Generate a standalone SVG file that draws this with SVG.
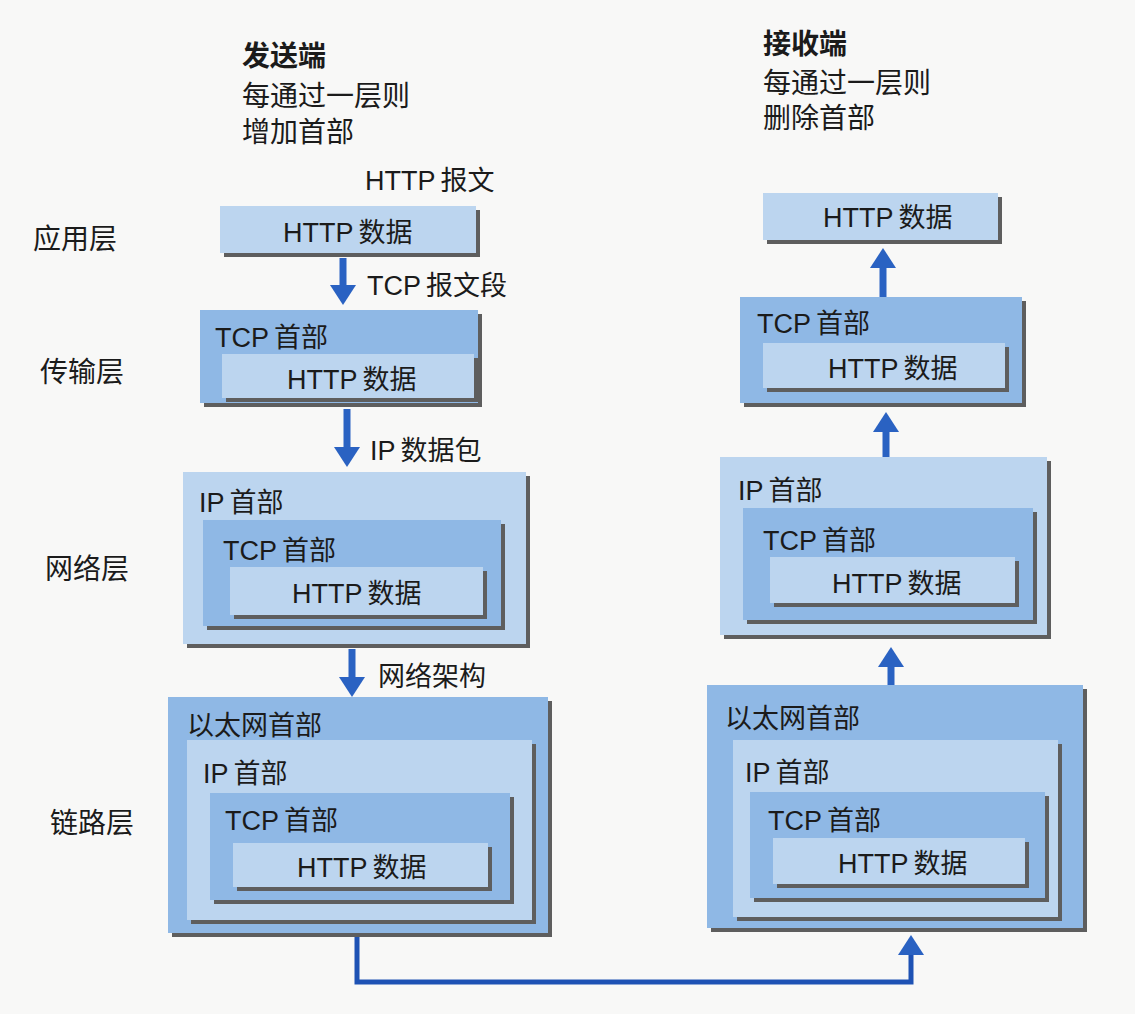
<svg xmlns="http://www.w3.org/2000/svg" width="1135" height="1014" viewBox="0 0 1135 1014">
  <defs>
    <style>
      .bg { fill: #f8f8f7; }
      .lt { fill: #bcd5ef; }
      .md { fill: #8fb8e5; }
      .sh { fill: #5e5e5e; }
      .t { font-family: "Liberation Sans", "Noto Sans CJK SC", sans-serif; font-size: 27px; fill: #1b1b1b; }
      .lbl { font-size: 28px; }
      .b { font-weight: bold; }
      .arr { fill: none; stroke: #2a62c2; stroke-width: 7; }
      .link { fill: none; stroke: #1e52b4; stroke-width: 5; }
    </style>
    <marker id="head" markerUnits="userSpaceOnUse" markerWidth="20" markerHeight="26" viewBox="0 0 20 26" refX="0" refY="13" orient="auto">
      <path d="M0,0 L20,13 L0,26 Z" fill="#2a62c2"/>
    </marker>
  </defs>

  <rect class="bg" x="0" y="0" width="1135" height="1014"/>

  <!-- headings -->
  <g id="sender-note" class="t lbl">
    <text class="b" x="242" y="66">发送端</text>
    <text x="242" y="106">每通过一层则</text>
    <text x="242" y="142">增加首部</text>
  </g>
  <g id="receiver-note" class="t lbl">
    <text class="b" x="763" y="54">接收端</text>
    <text x="763" y="93">每通过一层则</text>
    <text x="763" y="128">删除首部</text>
  </g>

  <!-- layer names -->
  <g id="layers" class="t lbl">
    <text x="33" y="249">应用层</text>
    <text x="40" y="382">传输层</text>
    <text x="45" y="579">网络层</text>
    <text x="50" y="833">链路层</text>
  </g>

  <!-- unit names between the sender stages -->
  <g id="unit-names" class="t">
    <text x="365" y="190">HTTP<tspan dx="5">报文</tspan></text>
    <text x="367" y="295">TCP<tspan dx="5">报文段</tspan></text>
    <text x="370" y="460">IP<tspan dx="5">数据包</tspan></text>
    <text x="378" y="686">网络架构</text>
  </g>

  <!-- sender: application layer -->
  <g id="send-app">
    <rect class="sh" x="224" y="210" width="256" height="47"/>
    <rect class="lt" x="220" y="206" width="256" height="47"/>
    <text class="t" x="283" y="242">HTTP<tspan dx="5">数据</tspan></text>
  </g>

  <!-- sender: transport layer -->
  <g id="send-transport">
    <rect class="sh" x="204" y="314" width="278" height="93"/>
    <rect class="md" x="200" y="310" width="278" height="93"/>
    <text class="t" x="215" y="347">TCP<tspan dx="5">首部</tspan></text>
    <rect class="sh" x="226" y="358" width="252" height="44"/>
    <rect class="lt" x="222" y="354" width="252" height="44"/>
    <text class="t" x="287" y="389">HTTP<tspan dx="5">数据</tspan></text>
  </g>

  <!-- sender: network layer -->
  <g id="send-network">
    <rect class="sh" x="187" y="476" width="343" height="172"/>
    <rect class="lt" x="183" y="472" width="343" height="172"/>
    <text class="t" x="199" y="512">IP<tspan dx="5">首部</tspan></text>
    <rect class="sh" x="207" y="524" width="298" height="106"/>
    <rect class="md" x="203" y="520" width="298" height="106"/>
    <text class="t" x="223" y="560">TCP<tspan dx="5">首部</tspan></text>
    <rect class="sh" x="234" y="571" width="253" height="48"/>
    <rect class="lt" x="230" y="567" width="253" height="48"/>
    <text class="t" x="292" y="603">HTTP<tspan dx="5">数据</tspan></text>
  </g>

  <!-- sender: link layer -->
  <g id="send-link">
    <rect class="sh" x="172" y="701" width="380" height="236"/>
    <rect class="md" x="168" y="697" width="380" height="236"/>
    <text class="t" x="187" y="735">以太网首部</text>
    <rect class="sh" x="191" y="744" width="345" height="180"/>
    <rect class="lt" x="187" y="740" width="345" height="180"/>
    <text class="t" x="203" y="783">IP<tspan dx="5">首部</tspan></text>
    <rect class="sh" x="214" y="797" width="300" height="107"/>
    <rect class="md" x="210" y="793" width="300" height="107"/>
    <text class="t" x="225" y="830">TCP<tspan dx="5">首部</tspan></text>
    <rect class="sh" x="237" y="847" width="255" height="44"/>
    <rect class="lt" x="233" y="843" width="255" height="44"/>
    <text class="t" x="297" y="877">HTTP<tspan dx="5">数据</tspan></text>
  </g>

  <!-- receiver: application layer -->
  <g id="recv-app">
    <rect class="sh" x="767" y="197" width="235" height="47"/>
    <rect class="lt" x="763" y="193" width="235" height="47"/>
    <text class="t" x="823" y="227">HTTP<tspan dx="5">数据</tspan></text>
  </g>

  <!-- receiver: transport layer -->
  <g id="recv-transport">
    <rect class="sh" x="744" y="301" width="282" height="106"/>
    <rect class="md" x="740" y="297" width="282" height="106"/>
    <text class="t" x="757" y="333">TCP<tspan dx="5">首部</tspan></text>
    <rect class="sh" x="767" y="347" width="242" height="45"/>
    <rect class="lt" x="763" y="343" width="242" height="45"/>
    <text class="t" x="828" y="378">HTTP<tspan dx="5">数据</tspan></text>
  </g>

  <!-- receiver: network layer -->
  <g id="recv-network">
    <rect class="sh" x="724" y="461" width="327" height="178"/>
    <rect class="lt" x="720" y="457" width="327" height="178"/>
    <text class="t" x="738" y="500">IP<tspan dx="5">首部</tspan></text>
    <rect class="sh" x="747" y="512" width="290" height="112"/>
    <rect class="md" x="743" y="508" width="290" height="112"/>
    <text class="t" x="763" y="550">TCP<tspan dx="5">首部</tspan></text>
    <rect class="sh" x="774" y="561" width="245" height="46"/>
    <rect class="lt" x="770" y="557" width="245" height="46"/>
    <text class="t" x="832" y="593">HTTP<tspan dx="5">数据</tspan></text>
  </g>

  <!-- receiver: link layer -->
  <g id="recv-link">
    <rect class="sh" x="711" y="689" width="376" height="243"/>
    <rect class="md" x="707" y="685" width="376" height="243"/>
    <text class="t" x="725" y="728">以太网首部</text>
    <rect class="sh" x="737" y="744" width="325" height="177"/>
    <rect class="lt" x="733" y="740" width="325" height="177"/>
    <text class="t" x="745" y="782">IP<tspan dx="5">首部</tspan></text>
    <rect class="sh" x="754" y="796" width="295" height="106"/>
    <rect class="md" x="750" y="792" width="295" height="106"/>
    <text class="t" x="768" y="830">TCP<tspan dx="5">首部</tspan></text>
    <rect class="sh" x="777" y="842" width="252" height="46"/>
    <rect class="lt" x="773" y="838" width="252" height="46"/>
    <text class="t" x="838" y="873">HTTP<tspan dx="5">数据</tspan></text>
  </g>

  <!-- connectors -->
  <g id="connectors">
    <path class="arr" d="M343,258 V285" marker-end="url(#head)"/>
    <path class="arr" d="M347,409 V447" marker-end="url(#head)"/>
    <path class="arr" d="M352,649 V677" marker-end="url(#head)"/>
    <path class="arr" d="M891,685 V667" marker-end="url(#head)"/>
    <path class="arr" d="M886,457 V432" marker-end="url(#head)"/>
    <path class="arr" d="M883,297 V268" marker-end="url(#head)"/>
    <path class="link" d="M357,937 V982 H911 V955" marker-end="url(#head)"/>
  </g>
</svg>
